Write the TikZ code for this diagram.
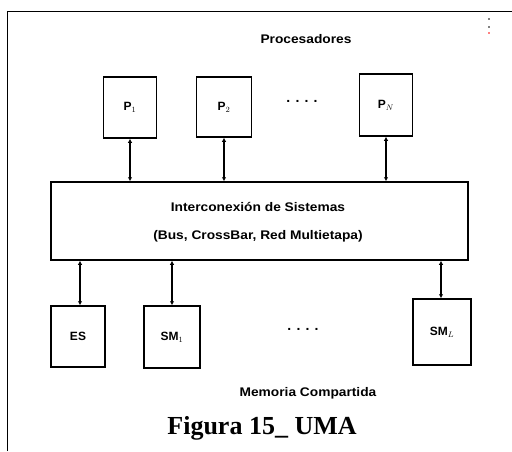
\documentclass[tikz,border=0pt]{standalone}
\usepackage{fontspec}
\setmainfont{Liberation Serif}
\newfontfamily\lblfont{Liberation Sans}
\usetikzlibrary{arrows.meta}
\begin{document}
\begin{tikzpicture}[x=1pt,y=-1pt,
  box/.style={draw,line width=1.5pt,inner sep=0pt,font=\lblfont\bfseries\fontsize{12}{14}\selectfont},
  link/.style={line width=1.8pt,{Latex[length=4pt,width=4.5pt]}-{Latex[length=4pt,width=4.5pt]}},
  lbl/.style={font=\lblfont\bfseries\fontsize{12.5}{14}\selectfont,inner sep=0pt,xscale=1.1},
  dots/.style={font=\lblfont\bfseries\fontsize{14}{14}\selectfont,inner sep=0pt}]
\useasboundingbox (0,0) rectangle (512,451);
% frame
\draw[line width=1pt] (7,451) -- (7,11) -- (512,11);
\fill (489,19) circle (0.9);
\fill (489,27) circle (0.9);
\fill[red] (489,33) circle (0.9);
% title
\node[lbl] (proc) at (306,39) {Procesadores};
% processors
\node[box,minimum width=53pt,minimum height=61pt] (p1) at (130,107.5) {P$_1$};
\node[box,minimum width=55pt,minimum height=60pt] (p2) at (224,107) {P$_2$};
\node[dots] (pd) at (302,101) {. . . .};
\node[box,minimum width=53pt,minimum height=62pt] (pn) at (386,105) {P$_N$};
% interconnect
\node[draw,line width=1.5pt,minimum width=417pt,minimum height=78pt,inner sep=0pt] (bus) at (259.5,221) {};
\node[lbl] (t1) at (258,207) {Interconexión de Sistemas};
\node[lbl] (t2) at (258,236) {(Bus, CrossBar, Red Multietapa)};
% memories
\node[box,minimum width=54pt,minimum height=61pt] (es) at (78,336.5) {ES};
\node[box,minimum width=56pt,minimum height=62pt] (m1) at (172,337) {SM$_1$};
\node[dots] (md) at (303,329) {. . . .};
\node[box,minimum width=58pt,minimum height=66pt] (ml) at (442,332) {SM$_L$};
\node[lbl] (mem) at (308,393) {Memoria Compartida};
% links
\draw[link] (p1.south) -- (p1.south |- bus.north);
\draw[link] (p2.south) -- (p2.south |- bus.north);
\draw[link] (pn.south) -- (pn.south |- bus.north);
\draw[link] (es.north -| 80,0) -- (80,0 |- bus.south);
\draw[link] (m1.north) -- (m1.north |- bus.south);
\draw[link] (ml.north -| 441,0) -- (441,0 |- bus.south);
% caption
\node[font=\bfseries\fontsize{26}{30}\selectfont,inner sep=0pt] (cap) at (262,428) {Figura 15\_ UMA};
\end{tikzpicture}
\end{document}
